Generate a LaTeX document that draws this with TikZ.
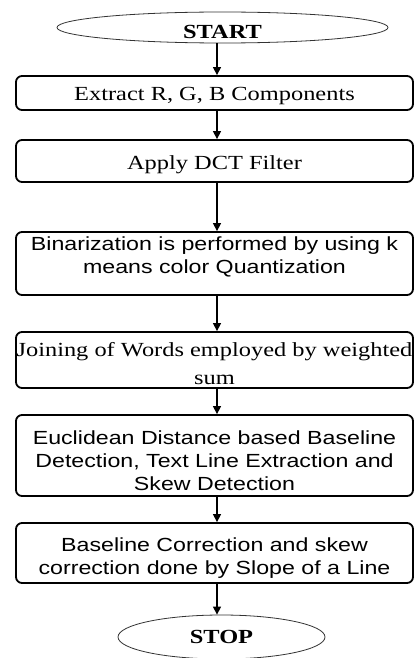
\documentclass[tikz,border=0pt]{standalone}
\usepackage{fontspec}
\setmainfont{Liberation Serif}[FakeStretch=1.22]
\newfontfamily\flowsans{Liberation Sans}[FakeStretch=1.22]
\usetikzlibrary{shapes.geometric,arrows.meta}
\begin{document}
\begin{tikzpicture}[x=1pt,y=-1pt,
  box/.style={draw=black,line width=1.8pt,rounded corners=6pt,minimum width=397pt,inner sep=0pt},
  stext/.style={inner sep=0pt,align=center,text=black,font=\fontsize{20}{28}\selectfont},
  ssans/.style={stext,font=\flowsans\fontsize{19}{23}\selectfont},
  term/.style={draw=black!80,line width=0.8pt,ellipse,inner sep=0pt},
  arr/.style={line width=1.3pt,-{Triangle[length=8pt,width=8pt]}}]
\useasboundingbox[fill=white] (0,0) rectangle (415,658);
\coordinate (ax) at (217,0);
\node[term,minimum width=331pt,minimum height=31pt] (start) at (222.5,27.5) {};
\node[stext,font=\bfseries\fontsize{20}{24}\selectfont] (startt) at ([yshift=-4pt]start.center) {START};
\node[box,minimum height=34pt] (b1) at (214.5,93) {};
\node[stext] (b1t) at ([yshift=-3pt]b1.center) {Extract R, G, B Components};
\node[box,minimum height=42pt] (b2) at (214.5,161) {};
\node[stext] (b2t) at ([yshift=-4pt]b2.center) {Apply DCT Filter};
\node[box,minimum height=63pt] (b3) at (214.5,263.5) {};
\node[ssans] (b3t) at ([yshift=7pt]b3.center) {Binarization is performed by using k\\means color Quantization};
\node[box,minimum height=56pt] (b4) at (214.5,360) {};
\node[stext] (b4t) at ([yshift=-4pt]b4.center) {Joining of Words employed by weighted\\sum};
\node[box,minimum height=81pt] (b5) at (214.5,455.5) {};
\node[ssans] (b5t) at ([yshift=-5pt]b5.center) {Euclidean Distance based Baseline\\Detection, Text Line Extraction and\\Skew Detection};
\node[box,minimum height=60pt] (b6) at (214.5,553) {};
\node[ssans] (b6t) at ([yshift=-5pt]b6.center) {Baseline Correction and skew\\correction done by Slope of a Line};
\node[term,minimum width=207pt,minimum height=44pt] (stop) at (221.5,637) {};
\node[stext,font=\bfseries\fontsize{20}{24}\selectfont] (stopt) at (stop.center) {STOP};
\draw[arr] (start.south -| ax) -- (b1.north -| ax);
\draw[arr] (b1.south -| ax) -- (b2.north -| ax);
\draw[arr] (b2.south -| ax) -- (b3.north -| ax);
\draw[arr] (b3.south -| ax) -- (b4.north -| ax);
\draw[arr] (b4.south -| ax) -- (b5.north -| ax);
\draw[arr] (b5.south -| ax) -- (b6.north -| ax);
\draw[arr] (b6.south -| ax) -- (stop.north -| ax);
\end{tikzpicture}
\end{document}
